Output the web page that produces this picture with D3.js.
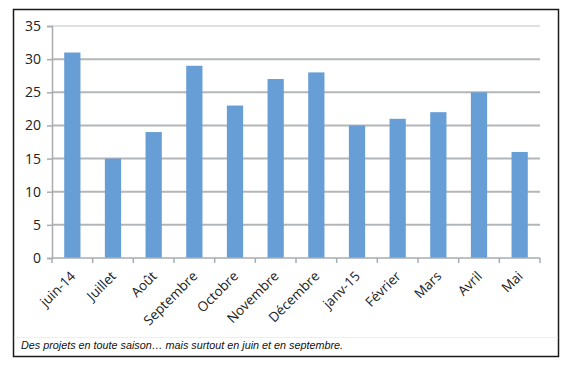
<!DOCTYPE html>
<html>
<head>
<meta charset="utf-8">
<script src="https://cdn.jsdelivr.net/npm/d3@7"></script>
<style>
	body { margin: 0; background: #fff; }
	svg { display: block; }
</style>
</head>
<body>
<div id="chart"></div>
<script>
const months = ["juin-14", "Juillet", "Août", "Septembre", "Octobre", "Novembre", "Décembre", "janv-15", "Février", "Mars", "Avril", "Mai"];
const projects = [31, 15, 19, 29, 23, 27, 28, 20, 21, 22, 25, 16];
const yTicks = [0, 5, 10, 15, 20, 25, 30, 35];
const caption = "Des projets en toute saison\u2026 mais surtout en juin et en septembre.";

let width = 564, height = 369;
let margin = { top: 26, right: 24, bottom: 111, left: 52 };

let svg = d3.select("#chart").append("svg").attr("width", width).attr("height", height);

// outer frame
svg.append("rect")
	.attr("x", 13.5).attr("y", 9.5)
	.attr("width", 545).attr("height", 347)
	.attr("fill", "none")
	.attr("stroke", "#1a1a1a")
	.attr("stroke-width", 1.5);
svg.append("line")
	.attr("x1", 14).attr("x2", 558)
	.attr("y1", 337.5).attr("y2", 337.5)
	.attr("stroke", "#eeeeee");

let x = d3.scaleBand().domain(months).range([margin.left, width - margin.right]).paddingInner(0.6).paddingOuter(0.3);
let y = d3.scaleLinear().domain([0, 35]).range([height - margin.bottom, margin.top]);

// gridlines
svg.append("g")
	.selectAll("line")
	.data(yTicks.slice(1))
	.enter()
	.append("line")
	.attr("x1", margin.left)
	.attr("x2", width - margin.right)
	.attr("y1", (d) => y(d))
	.attr("y2", (d) => y(d))
	.attr("stroke", (d) => (d === 35 ? "#bcc3c9" : "#b3b6b9"))
	.attr("stroke-width", (d) => (d === 35 ? 1 : 2));

// bars
svg.append("g")
	.selectAll("rect")
	.data(projects)
	.enter()
	.append("rect")
	.attr("x", (d, i) => x(months[i]))
	.attr("width", x.bandwidth())
	.attr("y", (d) => y(d))
	.attr("height", (d) => y(0) - y(d))
	.attr("fill", "#689ed6");

// y axis
let yAxis = d3.axisLeft(y).tickValues(yTicks).tickSize(5).tickPadding(6);
let gy = svg.append("g")
	.attr("transform", `translate(${margin.left},0)`)
	.call(yAxis);
gy.select(".domain").attr("stroke", "#a9acaf").attr("stroke-width", 1.5);
gy.selectAll(".tick line").attr("stroke", "#a9acaf").attr("stroke-width", 1.5);
gy.selectAll("text")
	.attr("fill", "#222")
	.style("font-family", "'Open Sans', sans-serif")
	.style("font-size", "14px");

// x axis with boundary ticks between categories
let bounds = d3.range(months.length + 1).map((i) => margin.left + i * (width - margin.left - margin.right) / months.length);
let gx = svg.append("g");
gx.append("line")
	.attr("x1", margin.left).attr("x2", width - margin.right)
	.attr("y1", y(0)).attr("y2", y(0))
	.attr("stroke", "#a9acaf").attr("stroke-width", 1.5);
gx.selectAll(".tk")
	.data(bounds)
	.enter()
	.append("line")
	.attr("class", "tk")
	.attr("x1", (d) => d).attr("x2", (d) => d)
	.attr("y1", y(0)).attr("y2", y(0) + 5)
	.attr("stroke", "#a9acaf").attr("stroke-width", 1.5);
gx.selectAll("text")
	.data(months)
	.enter()
	.append("text")
	.attr("transform", (d) => `translate(${x(d) + x.bandwidth() / 2 + 4},${y(0) + 19}) rotate(-45)`)
	.attr("text-anchor", "end")
	.attr("fill", "#222")
	.style("font-family", "'Open Sans', sans-serif")
	.style("font-size", "13.5px")
	.text((d) => d);

// caption
svg.append("text")
	.attr("x", 21)
	.attr("y", 349)
	.attr("textLength", 322)
	.attr("lengthAdjust", "spacingAndGlyphs")
	.attr("fill", "#111")
	.style("font-family", "'Liberation Sans Narrow', 'Liberation Sans', sans-serif")
	.style("font-style", "italic")
	.style("font-size", "11px")
	.text(caption);
</script>
</body>
</html>
